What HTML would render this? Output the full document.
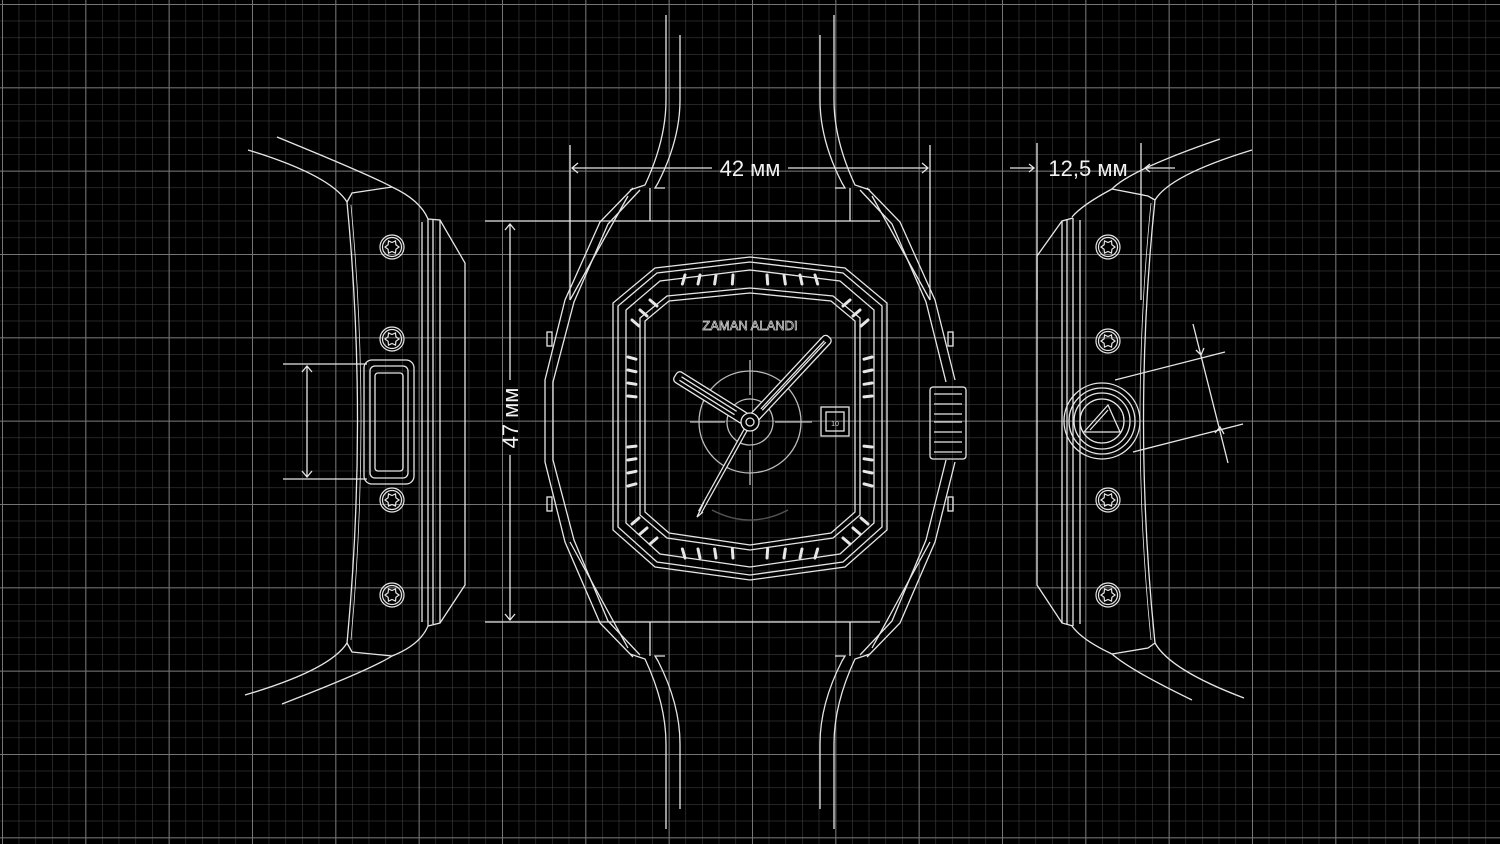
<!DOCTYPE html>
<html><head><meta charset="utf-8"><style>
html,body{margin:0;padding:0;background:#000;}
svg{display:block}
text{font-family:"Liberation Sans",sans-serif;}
</style></head><body>
<svg id="s" width="1500" height="844" viewBox="0 0 1500 844" xmlns="http://www.w3.org/2000/svg">
<defs>
<pattern id="minor" x="2" y="4" width="16.667" height="16.667" patternUnits="userSpaceOnUse">
<path d="M0 0V16.667M0 0H16.667" stroke="#3c3c3c" stroke-width="1.2" fill="none"/>
</pattern>
<pattern id="major" x="2" y="4" width="83.333" height="83.333" patternUnits="userSpaceOnUse">
<path d="M0 0V83.333M0 0H83.333" stroke="#757575" stroke-width="2" fill="none"/>
</pattern>
</defs>
<rect width="1500" height="844" fill="#000"/>
<rect width="1500" height="844" fill="url(#minor)"/>
<rect width="1500" height="844" fill="url(#major)"/>

<g fill="none" stroke="#e6e6e6" stroke-width="1.3" id="g">
<path d="M666 15 V100 Q666 140 645 185 L630 190"/>
<path d="M680 35 V100 Q680 140 658 183 L655 188 L665 188"/>
<path d="M834 15 V100 Q834 140 855 185 L870 190"/>
<path d="M820 35 V100 Q820 140 842 183 L845 188 L835 188"/>
<path d="M666 829 V744 Q666 704 645 659 L630 654"/>
<path d="M680 809 V744 Q680 704 658 661 L655 656 L665 656"/>
<path d="M834 829 V744 Q834 704 855 659 L870 654"/>
<path d="M820 809 V744 Q820 704 842 661 L845 656 L835 656"/>
<path d="M485 221 H880 M650 188 V221 M850 188 V221"/>
<path d="M485 622 H880 M650 656 V622 M850 656 V622"/>
<path d="M633 188 L600 222 L565 300 L545 380 L545 462 L565 542 L600 623 L633 657"/>
<path d="M640 190 L608 224 L574 302 L553 382 L553 460 L574 540 L608 621 L640 655"/>
<path d="M628 196 L570 300 M628 648 L570 542"/>
<path d="M867 188 L900 222 L935 300 L955 380 M955 462 L935 542 L900 623 L867 657"/>
<path d="M860 190 L892 224 L926 302 L946 382 M946 460 L926 540 L892 621 L860 655"/>
<path d="M872 196 L930 300 M872 648 L930 542"/>
<rect x="547" y="332" width="5" height="14"/><rect x="547" y="497" width="5" height="14"/>
<rect x="948" y="332" width="5" height="14"/><rect x="948" y="497" width="5" height="14"/>
<rect x="930" y="387" width="36" height="72" rx="3"/>
<path d="M934 394 H962 M934 404 H962 M934 414 H962 M934 422 H962 M934 432 H962 M934 442 H962 M934 452 H962"/>
<path d="M570 145 V300 M930 145 V300"/>
<path d="M572 168 H712 M788 168 H928 M578 163 L572 168 L578 173 M922 163 L928 168 L922 173"/>
<path d="M510 224 V380 M510 455 V620 M505 230 L510 224 L515 230 M505 614 L510 620 L515 614"/>
<path d="M750 257 L655 268 L613 303 L613 530 L655 567 L750 580 L845 567 L887 530 L887 303 L845 268 Z"/>
<path d="M750 262 L657 273 L618 306 L618 527 L657 562 L750 575 L843 562 L882 527 L882 306 L843 273 Z"/>
<path d="M750 270 L660 281 L626 310 L626 523 L660 554 L750 567 L840 554 L874 523 L874 310 L840 281 Z"/>
<path d="M750 288 L667 296 L640 318 L640 515 L667 538 L750 550 L833 538 L860 515 L860 318 L833 296 Z"/>
<path d="M750 293 L669 301 L645 321 L645 512 L669 533 L750 545 L831 533 L855 512 L855 321 L831 301 Z"/>
<g id="ticks" stroke-width="3" stroke-linecap="round"></g>
<g stroke="#bbbbbb">
<circle cx="750" cy="422" r="51"/><circle cx="750" cy="422" r="23"/>
<path d="M750 360 V395 M750 450 V485 M690 422 H725 M775 422 H812"/>
</g>
<path d="M712 510 Q750 530 788 510" stroke="#555"/>
<rect x="821" y="407" width="28" height="29"/><rect x="826" y="412" width="18" height="19"/>
<text x="835" y="426" font-size="7" fill="#ddd" stroke="none" text-anchor="middle">10</text>
<path d="M750 422 L700 512" stroke-width="4.5"/>
<path d="M750 422 L700 512" stroke="#000" stroke-width="2"/>
<path d="M704 502 L697 517 L703 512" />
<g transform="rotate(43 750 422)">
<rect x="745" y="306" width="10" height="112" rx="4" fill="#000"/>
<path d="M749 312 V405 M751 312 V405"/>
</g>
<g transform="rotate(-58 750 422)">
<rect x="744" y="334" width="12" height="84" rx="4" fill="#000"/>
<path d="M748 340 V405 M752 340 V405"/>
</g>
<circle cx="750" cy="422" r="9" fill="#000"/><circle cx="750" cy="422" r="4"/>
<text x="750" y="330" font-family="Liberation Serif,serif" font-size="13" fill="none" stroke="#ddd" stroke-width="0.7" text-anchor="middle">ZAMAN ALANDI</text>

<path d="M347 202 Q368 420 347 643"/>
<path d="M351 205 Q371 420 351 640" stroke-width="0.8"/>
<path d="M347 202 L352 193 L392 187"/>
<path d="M277 137 Q370 175 392 187 Q420 200 428 219"/>
<path d="M248 150 Q330 175 347 202"/>
<path d="M347 643 L352 652 L392 656"/>
<path d="M282 704 Q370 670 392 656 Q420 645 428 626"/>
<path d="M245 695 Q330 670 347 643"/>
<path d="M422 222 V622 M428 219 V626 M433 220 V624"/>
<path d="M428 219 L440 220 L465 263 L465 585 L440 623 L428 626"/>
<path d="M440 220 V623"/>
<rect x="364" y="360" width="50" height="124" rx="8"/>
<rect x="370" y="366" width="38" height="112" rx="5"/>
<rect x="375" y="373" width="28" height="98" rx="3"/>
<path d="M283 364 H367 M283 479 H367 M307 366 V477 M302 372 L307 366 L312 372 M302 471 L307 477 L312 471"/>
<path d="M1155 200 Q1132 420 1155 643"/>
<path d="M1151 203 Q1129 420 1151 640" stroke-width="0.8"/>
<path d="M1155 200 L1148 196 L1112 189"/>
<path d="M1220 139 Q1130 170 1112 189 Q1082 205 1072 217"/>
<path d="M1252 150 Q1170 175 1155 200"/>
<path d="M1155 643 L1148 648 L1112 654"/>
<path d="M1192 700 Q1130 670 1112 654 Q1082 640 1072 626"/>
<path d="M1244 698 Q1170 670 1155 643"/>
<path d="M1080 220 V624 M1073 218 V626 M1067 220 V624"/>
<path d="M1073 218 L1062 221 L1037 256 L1037 585 L1062 623 L1073 626"/>
<path d="M1062 221 V623"/>
<circle cx="1102" cy="421" r="38"/><circle cx="1102" cy="421" r="33"/>
<circle cx="1102" cy="421" r="28"/><circle cx="1102" cy="421" r="22"/>
<path d="M1084 432 L1108 405 L1120 432 Z M1090 430 L1108 410"/>
<path d="M1115 380 L1225 352 M1133 452 L1243 424 M1193 324 L1228 463 M1196 350 L1201 355 L1204 348 M1215 433 L1220 427 L1224 434"/>
<path d="M1037 143 V300 M1141 143 V300"/>
<path d="M1010 168 H1033 M1029 164 L1034 168 L1029 172 M1145 168 H1175 M1150 164 L1145 168 L1150 172"/>
</g>
<g id="screws" fill="none" stroke="#e6e6e6" stroke-width="1.2"></g>
<text x="750" y="176" font-size="22" fill="#f2f2f2" text-anchor="middle">42 мм</text>
<text x="1088" y="176" font-size="22" fill="#f2f2f2" text-anchor="middle">12,5 мм</text>
<text transform="translate(518 418) rotate(-90)" font-size="22" fill="#f2f2f2" text-anchor="middle">47 мм</text>
</svg>
<script>
var NS="http://www.w3.org/2000/svg";
function L(g,x1,y1,x2,y2){var l=document.createElementNS(NS,"line");l.setAttribute("x1",x1);l.setAttribute("y1",y1);l.setAttribute("x2",x2);l.setAttribute("y2",y2);g.appendChild(l);}
var t=document.getElementById("ticks");
[357,370,383,396,447,460,473,486].forEach(function(y,i){var d=(y-422)/30;L(t,628,y,636,y-d);L(t,872,y,864,y-d);});
[685,700,716,733,767,784,800,815].forEach(function(x){var d=(x-750)/25;L(t,x,275,x+d,284);L(t,x,558,x+d,549);});
[[632,320],[640,310],[650,300]].forEach(function(p){L(t,p[0],p[1],p[0]+7,p[1]+6);L(t,1500-p[0],p[1],1493-p[0],p[1]+6);L(t,p[0],844-p[1],p[0]+7,838-p[1]);L(t,1500-p[0],844-p[1],1493-p[0],838-p[1]);});
var s=document.getElementById("screws");
[[392,247],[392,339],[392,500],[392,595],[1108,247],[1108,341],[1108,500],[1108,595]].forEach(function(p){
 var c=document.createElementNS(NS,"circle");c.setAttribute("cx",p[0]);c.setAttribute("cy",p[1]);c.setAttribute("r",12);s.appendChild(c);
 var c2=document.createElementNS(NS,"circle");c2.setAttribute("cx",p[0]);c2.setAttribute("cy",p[1]);c2.setAttribute("r",9.5);s.appendChild(c2);
 var d="";for(var i=0;i<12;i++){var a=i*Math.PI/6,r=(i%2)?4.5:7;d+=(i?"L":"M")+(p[0]+r*Math.cos(a)).toFixed(1)+" "+(p[1]+r*Math.sin(a)).toFixed(1);}
 var pa=document.createElementNS(NS,"path");pa.setAttribute("d",d+"Z");s.appendChild(pa);
});
</script>
</body></html>
